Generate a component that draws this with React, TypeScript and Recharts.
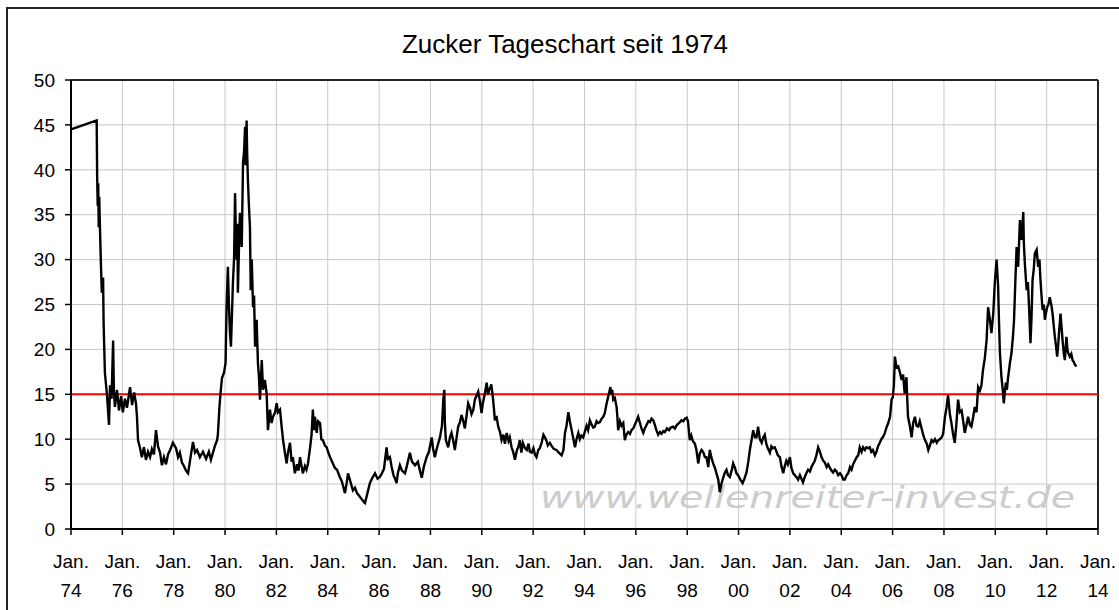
import React from "react";
import { LineChart, Line, XAxis, YAxis, CartesianGrid, ReferenceLine } from "recharts";

// Sugar daily close (US cents/lb): [year, value]
const seg1974to1979: number[][] = [
  [1974.00,44.5],[1975.00,45.5],[1975.02,39.0],[1975.04,36.0],[1975.06,38.5],[1975.08,33.6],[1975.10,37.0],[1975.12,34.5],
  [1975.16,30.0],[1975.20,26.3],[1975.25,28.0],[1975.27,23.0],[1975.32,17.4],[1975.40,15.0],[1975.48,11.6],[1975.52,16.0],
  [1975.58,14.5],[1975.64,21.0],[1975.67,15.5],[1975.71,13.6],[1975.79,15.5],[1975.87,13.2],[1975.95,14.8],[1976.02,13.0],
  [1976.10,14.5],[1976.18,13.5],[1976.30,15.8],[1976.38,13.8],[1976.46,15.2],[1976.53,14.0],[1976.57,12.5],[1976.61,9.9],
  [1976.69,9.0],[1976.76,8.0],[1976.84,9.1],[1976.92,7.7],[1977.00,8.6],[1977.08,8.0],[1977.15,8.9],[1977.23,8.3],
  [1977.31,11.0],[1977.39,9.2],[1977.47,8.5],[1977.54,7.1],[1977.62,8.0],[1977.70,7.2],[1977.78,8.3],[1977.86,8.8],
  [1977.97,9.6],[1978.09,9.0],[1978.17,8.0],[1978.24,8.5],[1978.32,7.4],[1978.40,7.0],[1978.48,6.5],[1978.56,6.2],
  [1978.63,7.5],[1978.75,9.7],[1978.83,8.5],[1978.91,8.8],[1979.02,8.0],[1979.14,8.6],[1979.26,7.8],[1979.37,8.6],
  [1979.45,7.7],[1979.53,8.5],[1979.61,9.3],[1979.69,9.9],[1979.72,10.5],[1979.78,13.5],[1979.82,15.0],[1979.88,16.8],
  [1979.96,17.4],
];

const seg1980to1983: number[][] = [
  [1980.02,18.5],[1980.06,24.7],[1980.11,29.2],[1980.15,25.0],[1980.19,22.0],[1980.23,20.3],[1980.27,24.0],[1980.31,27.7],
  [1980.35,30.0],[1980.39,37.4],[1980.42,33.0],[1980.45,30.0],[1980.48,34.0],[1980.50,26.3],[1980.54,31.0],[1980.58,35.2],
  [1980.62,33.0],[1980.65,31.4],[1980.68,37.0],[1980.70,40.8],[1980.74,42.0],[1980.78,44.8],[1980.80,40.5],[1980.84,45.5],
  [1980.86,42.0],[1980.89,38.9],[1980.93,36.0],[1980.97,33.6],[1981.00,26.6],[1981.04,30.0],[1981.09,24.7],[1981.13,26.0],
  [1981.17,20.3],[1981.23,23.3],[1981.28,18.5],[1981.32,17.0],[1981.36,14.4],[1981.43,18.8],[1981.48,15.5],[1981.55,16.6],
  [1981.62,15.1],[1981.67,11.0],[1981.75,13.3],[1981.81,11.8],[1981.87,12.5],[1981.95,13.0],[1982.01,14.0],[1982.06,13.0],
  [1982.14,13.3],[1982.20,11.5],[1982.26,9.9],[1982.33,8.5],[1982.40,7.3],[1982.45,8.5],[1982.53,9.6],[1982.59,7.5],
  [1982.64,8.0],[1982.72,6.2],[1982.80,7.2],[1982.86,6.5],[1982.92,8.0],[1982.98,7.0],[1983.03,6.2],[1983.11,7.0],
  [1983.17,6.6],[1983.23,7.3],[1983.31,9.0],[1983.37,10.5],[1983.42,13.3],[1983.46,11.0],[1983.50,12.5],[1983.57,10.7],
  [1983.62,12.0],[1983.70,11.8],[1983.75,10.0],[1983.81,9.9],[1983.89,9.3],[1983.96,9.1],
];

const seg1984to1989: number[][] = [
  [1984.01,8.6],[1984.09,8.0],[1984.20,7.3],[1984.28,6.8],[1984.36,6.6],[1984.47,5.8],[1984.55,5.3],[1984.67,4.0],
  [1984.73,5.0],[1984.79,6.2],[1984.86,5.5],[1984.98,4.3],[1985.06,4.6],[1985.14,4.0],[1985.25,3.6],[1985.33,3.3],
  [1985.41,3.0],[1985.45,2.9],[1985.53,3.8],[1985.64,5.1],[1985.72,5.6],[1985.84,6.2],[1985.94,5.6],[1986.03,5.8],
  [1986.11,6.2],[1986.19,6.7],[1986.29,9.1],[1986.34,7.8],[1986.42,8.0],[1986.49,6.9],[1986.56,6.0],[1986.62,5.6],
  [1986.68,5.1],[1986.73,6.2],[1986.81,7.1],[1986.89,6.5],[1987.01,6.2],[1987.08,7.0],[1987.20,8.5],[1987.28,7.5],
  [1987.40,7.1],[1987.51,7.5],[1987.59,6.5],[1987.66,5.7],[1987.75,7.0],[1987.85,8.0],[1987.94,8.6],[1988.05,10.2],
  [1988.10,9.0],[1988.17,8.0],[1988.25,9.0],[1988.37,10.2],[1988.45,11.5],[1988.50,14.4],[1988.54,15.5],[1988.56,12.0],
  [1988.60,9.9],[1988.69,9.1],[1988.76,10.2],[1988.82,10.7],[1988.89,9.8],[1988.95,8.8],[1989.01,10.0],[1989.08,11.4],
  [1989.15,11.9],[1989.21,12.7],[1989.28,12.0],[1989.34,11.2],[1989.40,12.5],[1989.47,14.0],[1989.54,13.5],[1989.60,12.8],
  [1989.67,13.3],[1989.73,14.4],[1989.79,14.8],[1989.86,15.3],[1989.93,14.2],[1989.99,12.9],
];

const seg1990to1995: number[][] = [
  [1990.04,14.0],[1990.12,15.1],[1990.19,16.3],[1990.24,15.0],[1990.30,15.6],[1990.34,15.8],[1990.37,16.1],[1990.44,14.4],
  [1990.47,13.5],[1990.51,12.1],[1990.57,12.6],[1990.64,11.4],[1990.71,10.8],[1990.77,9.9],[1990.84,10.5],[1990.90,9.5],
  [1990.97,10.7],[1991.04,9.8],[1991.09,10.2],[1991.16,9.1],[1991.23,8.5],[1991.29,7.7],[1991.37,8.8],[1991.43,9.2],
  [1991.48,9.9],[1991.54,8.5],[1991.60,9.6],[1991.68,9.0],[1991.75,8.8],[1991.82,9.5],[1991.87,8.6],[1991.94,8.5],
  [1992.01,9.0],[1992.07,8.3],[1992.13,8.0],[1992.20,8.8],[1992.26,9.0],[1992.33,9.6],[1992.40,10.5],[1992.46,10.2],
  [1992.52,9.8],[1992.57,9.3],[1992.65,9.6],[1992.73,9.2],[1992.81,8.9],[1992.91,8.8],[1993.00,8.5],[1993.11,8.2],
  [1993.18,8.8],[1993.24,10.7],[1993.30,11.5],[1993.37,13.0],[1993.43,12.0],[1993.50,11.0],[1993.57,10.0],[1993.63,9.1],
  [1993.69,10.0],[1993.76,10.7],[1993.82,10.0],[1993.88,10.4],[1993.95,10.2],[1994.02,10.9],[1994.08,11.5],[1994.14,11.0],
  [1994.21,12.1],[1994.28,11.6],[1994.34,11.3],[1994.40,11.4],[1994.47,12.0],[1994.53,11.8],[1994.60,11.9],[1994.67,12.3],
  [1994.73,12.5],[1994.79,12.9],[1994.85,13.8],[1994.92,14.7],[1994.97,15.3],[1995.01,15.8],[1995.04,15.0],[1995.08,15.5],
  [1995.12,14.4],[1995.18,14.6],[1995.25,13.6],[1995.28,12.5],[1995.31,11.0],[1995.38,12.0],[1995.44,11.5],[1995.51,11.8],
  [1995.57,9.9],[1995.63,10.5],[1995.70,10.8],[1995.77,10.6],[1995.83,11.0],[1995.90,11.2],[1995.96,11.6],
];

const seg1996to2001: number[][] = [
  [1996.02,12.0],[1996.09,12.5],[1996.16,11.8],[1996.22,11.2],[1996.29,10.7],[1996.35,11.2],[1996.42,11.6],[1996.49,12.0],
  [1996.55,11.9],[1996.61,12.3],[1996.68,12.1],[1996.74,11.6],[1996.80,11.0],[1996.87,10.5],[1996.94,10.8],[1997.00,10.6],
  [1997.07,10.9],[1997.13,10.8],[1997.21,11.2],[1997.29,11.0],[1997.36,11.3],[1997.45,11.4],[1997.52,11.2],[1997.60,11.6],
  [1997.68,11.8],[1997.78,12.1],[1997.85,12.0],[1997.91,12.3],[1997.98,12.4],[1998.03,12.0],[1998.10,9.9],[1998.16,10.4],
  [1998.22,9.8],[1998.30,9.5],[1998.36,8.8],[1998.43,7.3],[1998.49,8.4],[1998.56,8.8],[1998.62,8.6],[1998.69,8.0],
  [1998.75,8.0],[1998.82,6.9],[1998.88,8.8],[1998.94,8.0],[1999.01,7.3],[1999.08,6.8],[1999.14,6.2],[1999.21,5.5],
  [1999.27,4.1],[1999.33,5.0],[1999.40,5.7],[1999.47,6.3],[1999.53,6.6],[1999.59,6.0],[1999.66,5.8],[1999.73,6.5],
  [1999.79,7.3],[1999.86,6.8],[1999.92,6.2],[1999.98,6.0],[2000.07,5.5],[2000.16,5.1],[2000.23,5.6],[2000.31,6.3],
  [2000.38,7.5],[2000.44,8.8],[2000.50,9.8],[2000.57,11.0],[2000.64,10.2],[2000.70,10.2],[2000.76,11.4],[2000.83,10.0],
  [2000.90,9.6],[2000.96,10.2],[2001.02,10.5],[2001.08,9.5],[2001.14,9.0],[2001.22,8.5],[2001.28,9.2],[2001.34,9.0],
  [2001.41,9.1],[2001.48,8.6],[2001.53,8.2],[2001.61,8.0],[2001.67,7.0],[2001.74,6.2],[2001.80,7.0],[2001.86,7.6],
  [2001.92,7.2],
];

const seg2002to2007: number[][] = [
  [2002.00,8.0],[2002.06,6.8],[2002.13,6.2],[2002.19,6.0],[2002.25,5.8],[2002.32,5.5],[2002.39,6.0],[2002.45,5.6],
  [2002.51,5.2],[2002.58,5.8],[2002.64,6.2],[2002.71,6.6],[2002.78,6.4],[2002.84,6.9],[2002.91,7.3],[2002.97,7.6],
  [2003.03,8.2],[2003.10,9.1],[2003.17,8.6],[2003.23,8.0],[2003.30,7.6],[2003.36,7.4],[2003.43,6.9],[2003.49,7.2],
  [2003.56,6.8],[2003.62,6.5],[2003.68,6.3],[2003.75,6.6],[2003.82,6.4],[2003.88,6.0],[2003.95,6.2],[2004.01,6.0],
  [2004.08,5.5],[2004.14,5.5],[2004.21,6.0],[2004.27,6.2],[2004.34,6.9],[2004.40,6.6],[2004.46,7.2],[2004.53,7.6],
  [2004.60,8.0],[2004.66,8.2],[2004.72,9.1],[2004.79,8.6],[2004.85,9.1],[2004.92,8.8],[2004.98,9.1],[2005.05,9.0],
  [2005.11,9.1],[2005.17,8.6],[2005.23,8.8],[2005.31,8.2],[2005.37,8.6],[2005.43,9.2],[2005.50,9.6],[2005.56,10.0],
  [2005.62,10.2],[2005.70,10.7],[2005.76,11.3],[2005.83,11.8],[2005.90,12.5],[2005.96,14.4],[2006.01,14.7],[2006.05,16.0],
  [2006.09,19.2],[2006.15,18.0],[2006.22,18.1],[2006.28,17.5],[2006.35,16.6],[2006.41,17.2],[2006.47,15.1],[2006.54,16.9],
  [2006.57,14.5],[2006.60,12.5],[2006.67,11.5],[2006.74,10.2],[2006.80,11.8],[2006.87,12.5],[2006.93,11.5],[2007.00,11.4],
  [2007.06,12.0],[2007.13,11.2],[2007.19,10.5],[2007.26,9.9],[2007.33,9.5],[2007.39,8.8],[2007.45,9.3],[2007.52,9.9],
  [2007.58,9.7],[2007.65,10.0],[2007.72,9.6],[2007.78,9.9],[2007.84,10.0],[2007.91,10.2],[2007.97,10.6],
];

const seg2008to2013: number[][] = [
  [2008.04,12.5],[2008.10,13.5],[2008.16,14.9],[2008.23,12.8],[2008.29,11.8],[2008.36,10.5],[2008.42,9.6],[2008.48,11.5],
  [2008.55,14.4],[2008.62,13.0],[2008.69,13.2],[2008.75,12.0],[2008.81,10.7],[2008.87,11.5],[2008.94,12.5],[2009.01,11.6],
  [2009.07,11.4],[2009.14,12.5],[2009.20,13.6],[2009.27,13.0],[2009.33,15.8],[2009.40,15.4],[2009.46,16.0],[2009.52,17.7],
  [2009.59,19.0],[2009.66,21.0],[2009.72,24.7],[2009.79,23.3],[2009.85,21.8],[2009.92,24.0],[2009.98,27.4],[2010.05,30.0],
  [2010.11,27.0],[2010.14,23.5],[2010.18,19.6],[2010.24,16.9],[2010.29,15.5],[2010.33,14.0],[2010.37,15.2],[2010.41,16.3],
  [2010.45,15.5],[2010.50,16.9],[2010.57,18.5],[2010.63,19.6],[2010.69,21.5],[2010.73,23.3],[2010.78,27.5],[2010.83,31.4],
  [2010.89,29.2],[2010.96,34.4],[2011.02,32.2],[2011.09,35.3],[2011.11,32.0],[2011.15,29.6],[2011.22,26.6],[2011.27,27.5],
  [2011.32,24.4],[2011.37,20.7],[2011.41,23.5],[2011.45,27.7],[2011.50,29.0],[2011.54,30.7],[2011.61,31.1],[2011.67,29.2],
  [2011.72,30.0],[2011.76,27.7],[2011.80,26.0],[2011.84,24.4],[2011.89,25.0],[2011.93,23.3],[2011.97,24.0],[2012.02,24.7],
  [2012.07,25.0],[2012.12,25.8],[2012.18,25.0],[2012.23,24.0],[2012.28,22.5],[2012.32,21.4],[2012.36,20.5],[2012.41,19.2],
  [2012.45,20.5],[2012.48,21.8],[2012.54,24.0],[2012.58,22.5],[2012.62,21.0],[2012.67,19.5],[2012.71,18.8],[2012.77,21.4],
  [2012.81,20.0],[2012.84,19.6],[2012.90,19.2],[2012.96,19.5],[2013.01,18.8],[2013.06,18.6],[2013.10,18.3],[2013.16,18.1],
];

const xTicks = [1974, 1976, 1978, 1980, 1982, 1984, 1986, 1988, 1990, 1992, 1994, 1996, 1998, 2000, 2002, 2004, 2006, 2008, 2010, 2012, 2014];
const yTicks = [0, 5, 10, 15, 20, 25, 30, 35, 40, 45, 50];
const title = "Zucker Tageschart seit 1974";
const watermark = "www.wellenreiter-invest.de";
const threshold = 15;

const data = [
  ...seg1974to1979, ...seg1980to1983, ...seg1984to1989, ...seg1990to1995,
  ...seg1996to2001, ...seg2002to2007, ...seg2008to2013,
].map(([t, v]) => ({ t, v }));

const FONT = "'Liberation Sans', Arial, sans-serif";

const XTick = (props: any) => {
  const { x, y, payload } = props;
  const yy = String(payload.value % 100).padStart(2, "0");
  return (
    <text x={x} y={y} textAnchor="middle" fontFamily={FONT} fontSize={19} fill="#000">
      <tspan x={x} dy={31}>Jan.</tspan>
      <tspan x={x} dy={29}>{yy}</tspan>
    </text>
  );
};

export default function App() {
  return (
    <div style={{ position: "relative", width: 1119, height: 610, overflow: "hidden", background: "#fff" }}>
      <style>{"html,body{margin:0;padding:0;overflow:hidden;}"}</style>
      <svg width={1119} height={610} style={{ position: "absolute", left: 0, top: 0 }}>
        <path d="M7,610 V8 H1119" fill="none" stroke="#222" strokeWidth={2} />
        <text x={565} y={53} textAnchor="middle" fontFamily={FONT} fontSize={26} fill="#000">{title}</text>
        <text x={540} y={508} fontFamily="'DejaVu Sans', sans-serif" fontStyle="italic" fontSize={30}
          fill="#cccccc" textLength={535} lengthAdjust="spacingAndGlyphs">{watermark}</text>
      </svg>
      <div style={{ position: "absolute", left: 8, top: 8 }}>
        <LineChart width={1111} height={594} data={data} margin={{ top: 72, right: 21, bottom: 13, left: 0 }}>
          <CartesianGrid stroke="#c8c8c8" strokeWidth={1} />
          <XAxis dataKey="t" type="number" domain={[1974, 2014]} ticks={xTicks} interval={0}
            height={60} tickSize={6} tickMargin={2} tick={<XTick />}
            axisLine={{ stroke: "#000", strokeWidth: 2 }} tickLine={{ stroke: "#000", strokeWidth: 1.5 }} />
          <YAxis type="number" domain={[0, 50]} ticks={yTicks} interval={0} width={63}
            tickSize={6} tickMargin={10}
            tick={{ fontFamily: FONT, fontSize: 19, fill: "#000" }}
            axisLine={{ stroke: "#000", strokeWidth: 2 }} tickLine={{ stroke: "#000", strokeWidth: 1.5 }} />
          <ReferenceLine y={50} stroke="#222" strokeWidth={2} />
          <ReferenceLine x={2014} stroke="#222" strokeWidth={2} />
          <ReferenceLine y={threshold} stroke="#ff0000" strokeWidth={2} />
          <Line type="linear" dataKey="v" stroke="#000" strokeWidth={2.4} dot={false} isAnimationActive={false} />
        </LineChart>
      </div>
    </div>
  );
}
